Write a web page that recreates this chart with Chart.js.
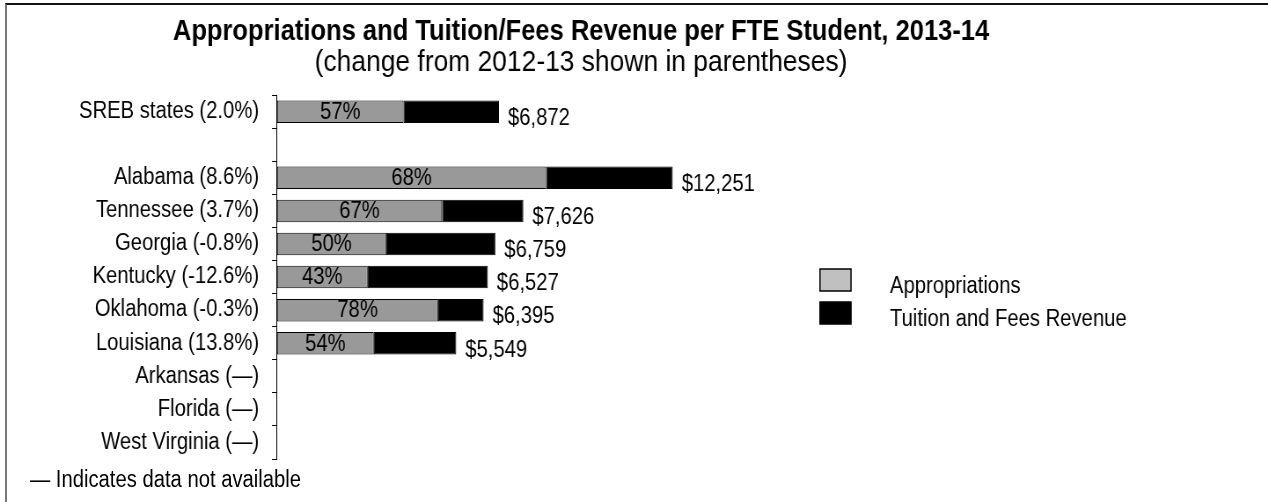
<!DOCTYPE html>
<html>
<head>
<meta charset="utf-8">
<script src="https://cdn.jsdelivr.net/npm/chart.js@4"></script>
<style>
  html, body { margin: 0; padding: 0; background: #fff; overflow: hidden; }
  #frame {
    position: absolute; left: 5px; top: 3px; width: 1263px; height: 499px;
    border-top: 2px solid #111; border-left: 2px solid #777;
  }
  /* the chart is laid out wider and then narrowed, giving the tall condensed lettering */
  #wrap {
    position: absolute; left: 0; top: 0; width: 1441px; height: 502px;
    transform: scaleX(0.88); transform-origin: 0 0;
  }
  #note {
    position: absolute; left: 34px; top: 466px;
    font: 23px "Liberation Sans", Arial, sans-serif; color: #000;
  }
</style>
</head>
<body>
<div id="frame"></div>
<div id="wrap">
  <canvas id="fteChart" width="1441" height="502"></canvas>
  <div id="note">— Indicates data not available</div>
</div>
<script>
const states = [
    'SREB states (2.0%)', '', 'Alabama (8.6%)', 'Tennessee (3.7%)', 'Georgia (-0.8%)',
    'Kentucky (-12.6%)', 'Oklahoma (-0.3%)', 'Louisiana (13.8%)',
    'Arkansas (\u2014)', 'Florida (\u2014)', 'West Virginia (\u2014)'
];
// total revenue per FTE student, dollars
const totalPerFte = [6872, null, 12251, 7626, 6759, 6527, 6395, 5549, null, null, null];
// appropriations share of the total, percent
const apprShare = [57, null, 68, 67, 50, 43, 78, 54, null, null, null];

const seriesNames = ['Appropriations', 'Tuition and Fees Revenue'];
const apprColor = '#999999';
const apprLegendColor = '#c0c0c0';
const tuitionColor = '#000000';
const FONT = '"Liberation Sans", Arial, sans-serif';
const SQUEEZE = 0.88;
const sx = v => v / SQUEEZE;   // screen px -> canvas px, horizontal only

const apprValues = totalPerFte.map((t, i) => t == null ? null : t * apprShare[i] / 100);
const tuitionValues = totalPerFte.map((t, i) => t == null ? null : t - apprValues[i]);

const fmtDollar = v => '$' + v.toLocaleString('en-US');

const barLabels = {
    id: 'barLabels',
    afterDatasetsDraw(chart) {
        const ctx = chart.ctx;
        const appr = chart.getDatasetMeta(0).data;
        const tuition = chart.getDatasetMeta(1).data;
        ctx.save();
        ctx.font = '23px ' + FONT;
        ctx.fillStyle = '#000';
        ctx.textBaseline = 'middle';
        totalPerFte.forEach((t, i) => {
            if (t == null) return;
            const a = appr[i];
            ctx.textAlign = 'center';
            ctx.fillText(apprShare[i] + '%', (a.x + a.base) / 2, a.y + 1);
            const b = tuition[i];
            ctx.textAlign = 'left';
            ctx.fillText(fmtDollar(t), b.x + sx(9), b.y + 7);
        });
        ctx.restore();
    }
};

const sideLegend = {
    id: 'sideLegend',
    afterDraw(chart) {
        const ctx = chart.ctx;
        const fills = [apprLegendColor, tuitionColor];
        ctx.save();
        ctx.font = '23px ' + FONT;
        ctx.textBaseline = 'middle';
        ctx.textAlign = 'left';
        seriesNames.forEach((name, i) => {
            const y = 269 + i * 33;
            ctx.fillStyle = fills[i];
            ctx.fillRect(sx(820), y, sx(31), 22);
            ctx.strokeStyle = '#000';
            ctx.lineWidth = 1.5;
            ctx.strokeRect(sx(820), y, sx(31), 22);
            ctx.fillStyle = '#000';
            ctx.fillText(name, sx(890), y + 18);
        });
        ctx.restore();
    }
};

new Chart(document.getElementById('fteChart'), {
    type: 'bar',
    data: {
        labels: states,
        datasets: [
            {
                label: seriesNames[0],
                data: apprValues,
                backgroundColor: apprColor,
                borderColor: '#000',
                borderWidth: 1,
                borderSkipped: false
            },
            {
                label: seriesNames[1],
                data: tuitionValues,
                backgroundColor: tuitionColor,
                borderColor: '#000',
                borderWidth: 1,
                borderSkipped: false
            }
        ]
    },
    options: {
        indexAxis: 'y',
        responsive: false,
        animation: false,
        barPercentage: 0.68,
        categoryPercentage: 1,
        layout: { padding: { left: 0, right: sx(106), top: 0, bottom: 43 } },
        plugins: {
            legend: { display: false },
            tooltip: { enabled: false },
            title: {
                display: true,
                text: 'Appropriations and Tuition/Fees Revenue per FTE Student, 2013-14',
                color: '#000',
                font: { family: FONT, size: 29, weight: 'bold', lineHeight: 0.9 },
                padding: { top: 19, bottom: 0 }
            },
            subtitle: {
                display: true,
                text: '(change from 2012-13 shown in parentheses)',
                color: '#000',
                font: { family: FONT, size: 30, weight: 'normal', lineHeight: 0.9 },
                padding: { top: 4, bottom: 19 }
            }
        },
        scales: {
            x: {
                display: false,
                stacked: true,
                min: 0,
                max: 27400
            },
            y: {
                stacked: true,
                afterFit(scale) { scale.width = sx(277); },
                grid: {
                    display: true,
                    drawOnChartArea: false,
                    drawTicks: true,
                    tickLength: sx(5),
                    offset: true,
                    color: '#000',
                    lineWidth: 1
                },
                border: { display: true, color: '#000', width: 1 },
                ticks: {
                    color: '#000',
                    padding: sx(13),
                    autoSkip: false,
                    font: { family: FONT, size: 23 }
                }
            }
        }
    },
    plugins: [barLabels, sideLegend]
});
</script>
</body>
</html>
